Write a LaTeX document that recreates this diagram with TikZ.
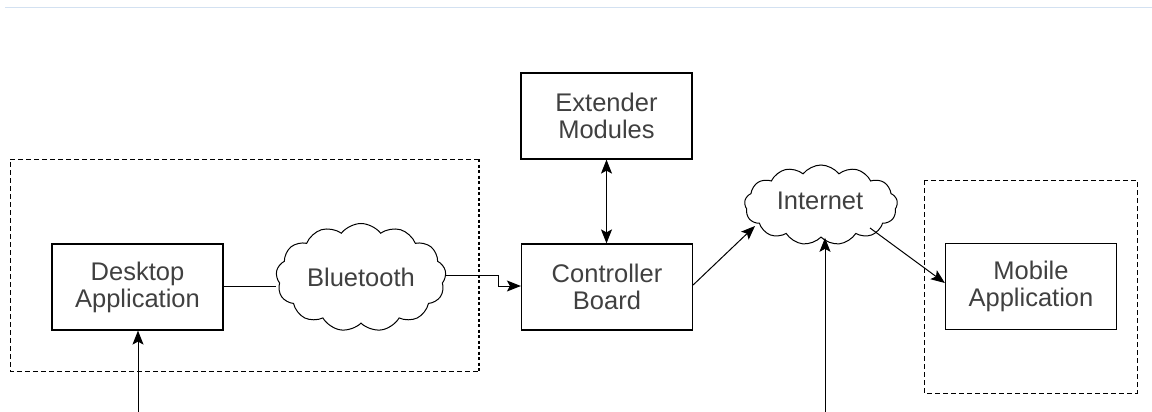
\documentclass[tikz,border=0pt]{standalone}
\usepackage{fontspec}
\setmainfont{Liberation Sans}
\usetikzlibrary{shapes.symbols,arrows.meta}
\definecolor{rulecol}{HTML}{D3E1F1}
\definecolor{txtcol}{HTML}{404040}
\tikzset{
  lbl/.style={align=center, text=txtcol, font=\fontsize{25.5}{27}\selectfont, inner sep=0pt},
  blockbox/.style={lbl, draw, line width=1.2pt, minimum width=171pt, minimum height=86pt},
  netcloud/.style={draw, line width=1pt, cloud, cloud puffs=13, cloud puff arc=105,
    cloud ignores aspect, inner sep=0pt},
  groupbox/.style={draw, line width=1pt, dash pattern=on 5pt off 3pt},
  conn/.style={line width=1pt},
  arr/.style={conn, -{Stealth[length=14pt,width=11pt,inset=3pt]}},
  dblarr/.style={conn, {Stealth[length=14pt,width=11pt,inset=3pt]}-{Stealth[length=14pt,width=11pt,inset=3pt]}},
}
\begin{document}
\begin{tikzpicture}[x=1pt,y=-1pt]
  \useasboundingbox (0,0) rectangle (1152,412);
  % thin rule along the top
  \draw[rulecol, line width=1.5pt] (5,7.5) -- (1152,7.5);

  % grouping frames
  \draw[groupbox] (479,159) -- (10,159) -- (10,371) -- (479,371);
  \draw[line width=2.2pt, dash pattern=on 3pt off 2.5pt] (479,159) -- (479,371);
  \draw[groupbox] (924,180) rectangle (1137,393);

  % blocks
  \node[blockbox] (desk) at (137.5,287) {Desktop\\Application};
  \node[blockbox] (ctrl) at (607,287) {Controller\\Board};
  \node[blockbox] (ext)  at (606.5,116) {Extender\\Modules};
  \node[blockbox] (mob)  at (1031,286.5) {Mobile\\Application};

  % clouds and their labels
  \node[netcloud, minimum width=170pt, minimum height=108pt] (bt) at (361,277.5) {};
  \node[lbl] (btlbl) at (bt.center) {Bluetooth};
  \node[netcloud, minimum width=153pt, minimum height=80pt] (net) at (821,205) {};
  \node[lbl] (netlbl) at (820,201) {Internet};

  % free ends of the incoming lines at the bottom
  \coordinate (inA) at (138,412);
  \coordinate (inB) at (825,412);

  % connectors
  \draw[conn] (desk.east |- 0,286) -- (bt.west |- 0,286);
  \draw[arr] (bt.east |- 0,275) -- (498,275) -- (498,286) -- (ctrl.west |- 0,286);
  \draw[dblarr] (ext.south) -- (ctrl.north -| ext.south);
  \draw[arr] (ctrl.east |- 0,285) -- (755,226);
  \draw[arr] (870,228) -- (mob.west |- 0,283);
  \draw[arr] (inA) -- (desk.south -| inA);
  \draw[arr] (inB) -- (net.south -| inB);
\end{tikzpicture}
\end{document}
